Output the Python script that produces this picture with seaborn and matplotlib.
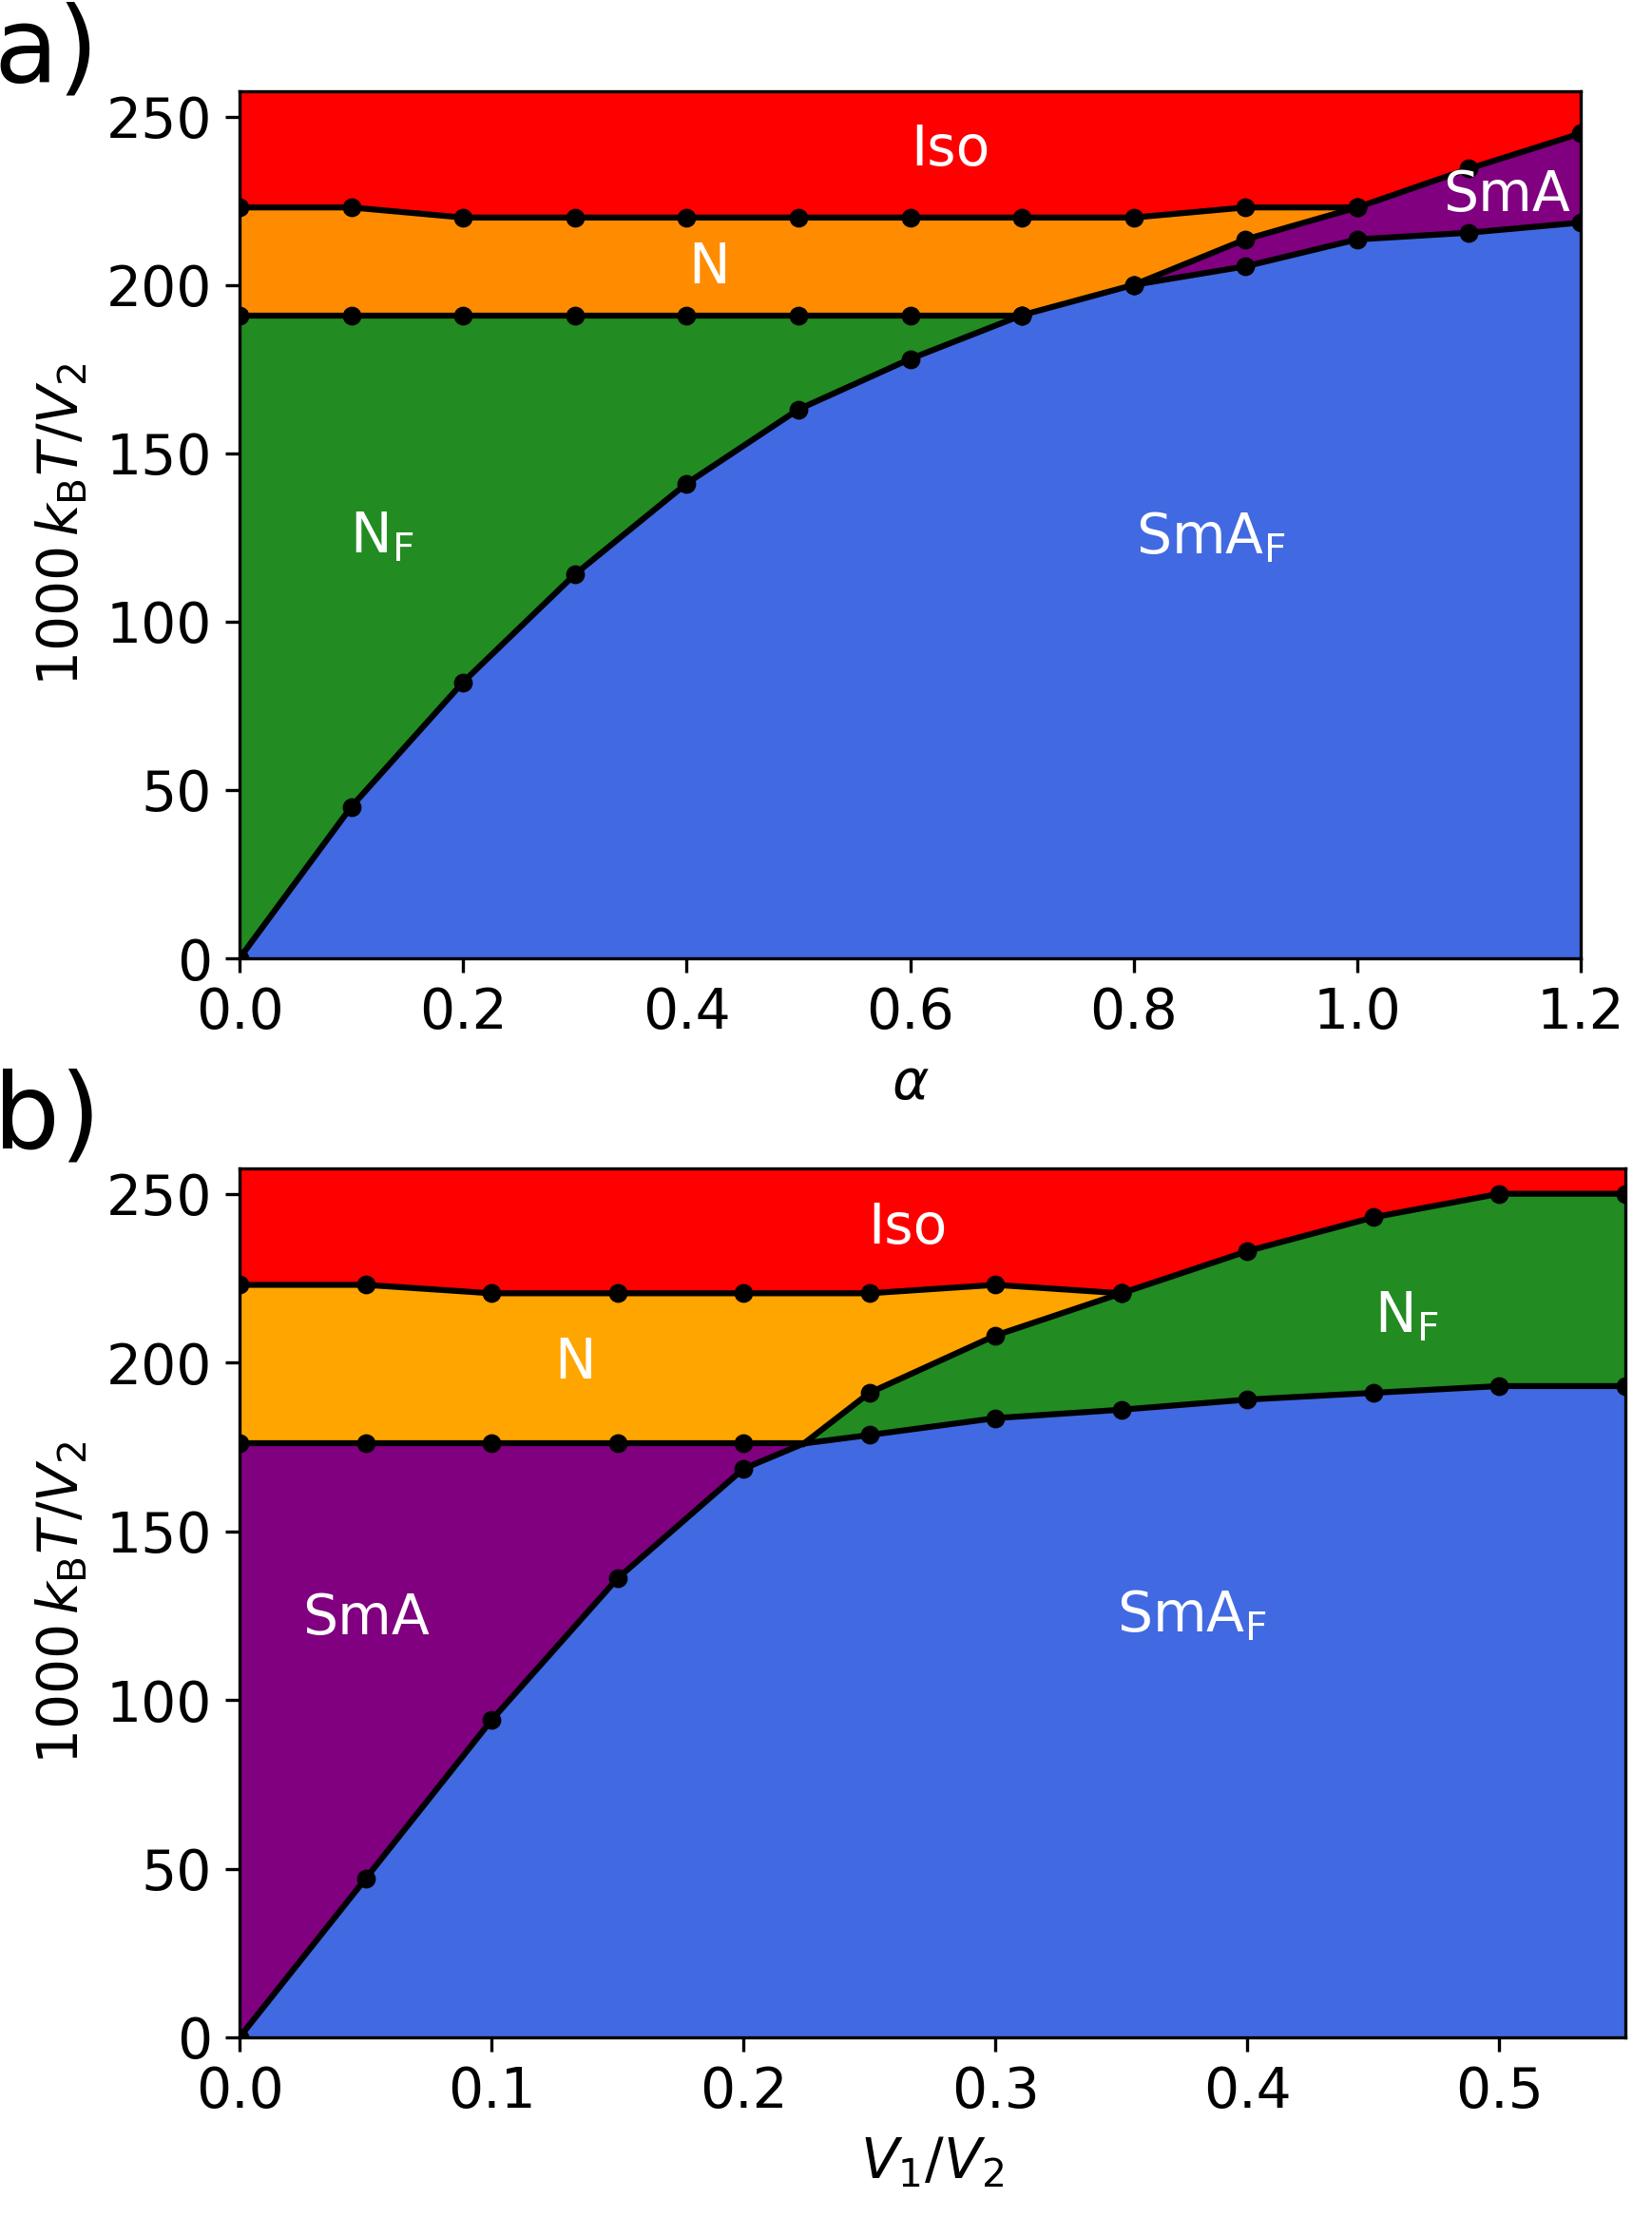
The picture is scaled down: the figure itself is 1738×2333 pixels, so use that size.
import matplotlib
matplotlib.use("Agg")
import matplotlib.pyplot as plt
import seaborn as sns
import numpy as np

# ---------------- panel a: alpha ----------------
ALPHA = [0.0, 0.1, 0.2, 0.3, 0.4, 0.5, 0.6, 0.7, 0.8, 0.9, 1.0, 1.1, 1.2]
ISO_N_A = [223, 223, 220, 220, 220, 220, 220, 220, 220, 223, 223]   # alpha 0.0..1.0
N_NF_A = [191, 191, 191, 191, 191, 191, 191, 191]                   # alpha 0.0..0.7
NF_SMAF_A = [0, 45, 82, 114, 141, 163, 178, 191]                    # alpha 0.0..0.7
N_SMAF_A = [191, 200]                                               # alpha 0.7..0.8
N_SMA_A = [200, 213.5, 223]                                         # alpha 0.8..1.0
ISO_SMA_A = [223, 234.5, 245]                                       # alpha 1.0..1.2
SMA_SMAF_A = [200, 205.5, 213.5, 215.5, 218.5]                      # alpha 0.8..1.2

# ---------------- panel b: V1/V2 ----------------
V1 = [0.0, 0.05, 0.1, 0.15, 0.2, 0.25, 0.3, 0.35, 0.4, 0.45, 0.5, 0.55]
ISO_N_B = [223, 223, 220.5, 220.5, 220.5, 220.5, 223, 220.5]        # V1 0.0..0.35
ISO_NF_B = [220.5, 233, 243, 250, 250]                              # V1 0.35..0.55
N_SMA_B = [176, 176, 176, 176, 176]                                 # V1 0.0..0.2
SMA_SMAF_B = [0, 47, 94, 136, 168.5]                                # V1 0.0..0.2
N_NF_B = [191, 208, 220.5]                                          # V1 0.25..0.35
NF_SMAF_B = [178.5, 183.5, 186, 189, 191, 193, 193]                 # V1 0.25..0.55
TRIPLE_B = (0.224, 176)                                             # N / SmA / SmA_F / N_F meet

YMAX = 257.5
YTICKS = [0, 50, 100, 150, 200, 250]

RED = "#FF0000"
ORANGE_A = "#FF8C00"
ORANGE_B = "#FFA500"
GREEN = "#228B22"
BLUE = "#4169E1"
PURPLE = "#800080"

plt.rcParams.update({
    'font.family': ['DejaVu Sans'],
    'font.size': 14,
    'xtick.labelsize': 14,
    'ytick.labelsize': 14,
    'axes.labelsize': 14,
})

W, H = 1738, 2333
fig = plt.figure(figsize=(W / 300, H / 300), dpi=300)
ax_a = fig.add_axes([252 / W, 1 - 1008 / H, (1663 - 252) / W, (1008 - 96) / H])
ax_b = fig.add_axes([252 / W, 1 - 2143 / H, (1710 - 252) / W, (2143 - 1229) / H])


def boundary(ax, x, y, every=None):
    sns.lineplot(x=x, y=y, ax=ax, color='k', lw=1.5, sort=False, estimator=None,
                 marker='o', markersize=4, markeredgecolor='k', markevery=every,
                 zorder=5)


def label(ax, x, y, s):
    ax.text(x, y, s, color='white', fontsize=14, ha='center', va='center', zorder=6)


# ---------------- panel a ----------------
ax = ax_a
a = np.array(ALPHA)
iso_top = np.array(ISO_N_A + ISO_SMA_A[1:])
blue_top = np.array(NF_SMAF_A + N_SMAF_A[1:] + SMA_SMAF_A[1:])
n_low = np.array(N_NF_A + N_SMAF_A[1:] + N_SMA_A[1:])
sma_top = np.array(N_SMA_A + ISO_SMA_A[1:])

ax.fill_between(a, iso_top, YMAX + 10, color=RED, lw=0)
ax.fill_between(a[:11], n_low, iso_top[:11], color=ORANGE_A, lw=0)
ax.fill_between(a[:8], NF_SMAF_A, N_NF_A, color=GREEN, lw=0)
ax.fill_between(a[8:], SMA_SMAF_A, sma_top, color=PURPLE, lw=0)
ax.fill_between(a, 0, blue_top, color=BLUE, lw=0)

boundary(ax, ALPHA[:11], ISO_N_A)
boundary(ax, ALPHA[:8], N_NF_A)
boundary(ax, ALPHA[:8], NF_SMAF_A)
boundary(ax, ALPHA[7:9], N_SMAF_A)
boundary(ax, ALPHA[8:11], N_SMA_A)
boundary(ax, ALPHA[10:], ISO_SMA_A)
boundary(ax, ALPHA[8:], SMA_SMAF_A)

label(ax, 0.636, 240, "Iso")
label(ax, 0.42, 205, "N")
label(ax, 0.127, 125, r"N$_\mathrm{F}$")
label(ax, 0.869, 125, r"SmA$_\mathrm{F}$")
label(ax, 1.134, 226.5, "SmA")

ax.set_xlim(0, 1.2)
ax.set_ylim(0, YMAX)
ax.set_xticks([0.0, 0.2, 0.4, 0.6, 0.8, 1.0, 1.2])
ax.set_yticks(YTICKS)
ax.set_xlabel(r"$\alpha$")
ax.set_ylabel(r"$1000\,k_\mathrm{B}T/V_2$")

# ---------------- panel b ----------------
ax = ax_b
tx, ty = TRIPLE_B

red_x = V1[:8] + V1[8:] + [0.55, 0.0]
red_y = ISO_N_B + ISO_NF_B[1:] + [YMAX + 10, YMAX + 10]
ax.fill(red_x, red_y, color=RED, lw=0)

n_x = V1[:5] + [tx] + V1[5:8] + V1[:8][::-1]
n_y = N_SMA_B + [ty] + N_NF_B + ISO_N_B[::-1]
ax.fill(n_x, n_y, color=ORANGE_B, lw=0)

sma_x = V1[:5] + [tx] + V1[:5][::-1]
sma_y = SMA_SMAF_B + [ty] + N_SMA_B[::-1]
ax.fill(sma_x, sma_y, color=PURPLE, lw=0)

nf_x = [tx] + V1[5:] + V1[7:][::-1] + V1[5:8][::-1]
nf_y = [ty] + NF_SMAF_B + ISO_NF_B[::-1] + N_NF_B[::-1]
ax.fill(nf_x, nf_y, color=GREEN, lw=0)

blue_x = V1[:5] + [tx] + V1[5:] + [0.55]
blue_y = SMA_SMAF_B + [ty] + NF_SMAF_B + [0]
ax.fill(blue_x, blue_y, color=BLUE, lw=0)

boundary(ax, V1[:8], ISO_N_B)
boundary(ax, V1[7:], ISO_NF_B)
boundary(ax, V1[:5] + [tx], N_SMA_B + [ty], every=list(range(5)))
boundary(ax, V1[:5] + [tx], SMA_SMAF_B + [ty], every=list(range(5)))
boundary(ax, [tx] + V1[5:8], [ty] + N_NF_B, every=[1, 2, 3])
boundary(ax, [tx] + V1[5:], [ty] + NF_SMAF_B, every=list(range(1, 8)))

label(ax, 0.265, 240, "Iso")
label(ax, 0.133, 200, "N")
label(ax, 0.463, 213.5, r"N$_\mathrm{F}$")
label(ax, 0.050, 124, "SmA")
label(ax, 0.378, 125, r"SmA$_\mathrm{F}$")

ax.set_xlim(0, 0.55)
ax.set_ylim(0, YMAX)
ax.set_xticks([0.0, 0.1, 0.2, 0.3, 0.4, 0.5])
ax.set_yticks(YTICKS)
ax.set_xlabel(r"$V_1/V_2$")
ax.set_ylabel(r"$1000\,k_\mathrm{B}T/V_2$")

fig.text(-0.004, 1 - 85 / H, "a)", fontsize=26.5, ha='left', va='baseline')
fig.text(-0.004, 1 - 1207 / H, "b)", fontsize=26.5, ha='left', va='baseline')

fig.savefig("out.png", dpi=300)
